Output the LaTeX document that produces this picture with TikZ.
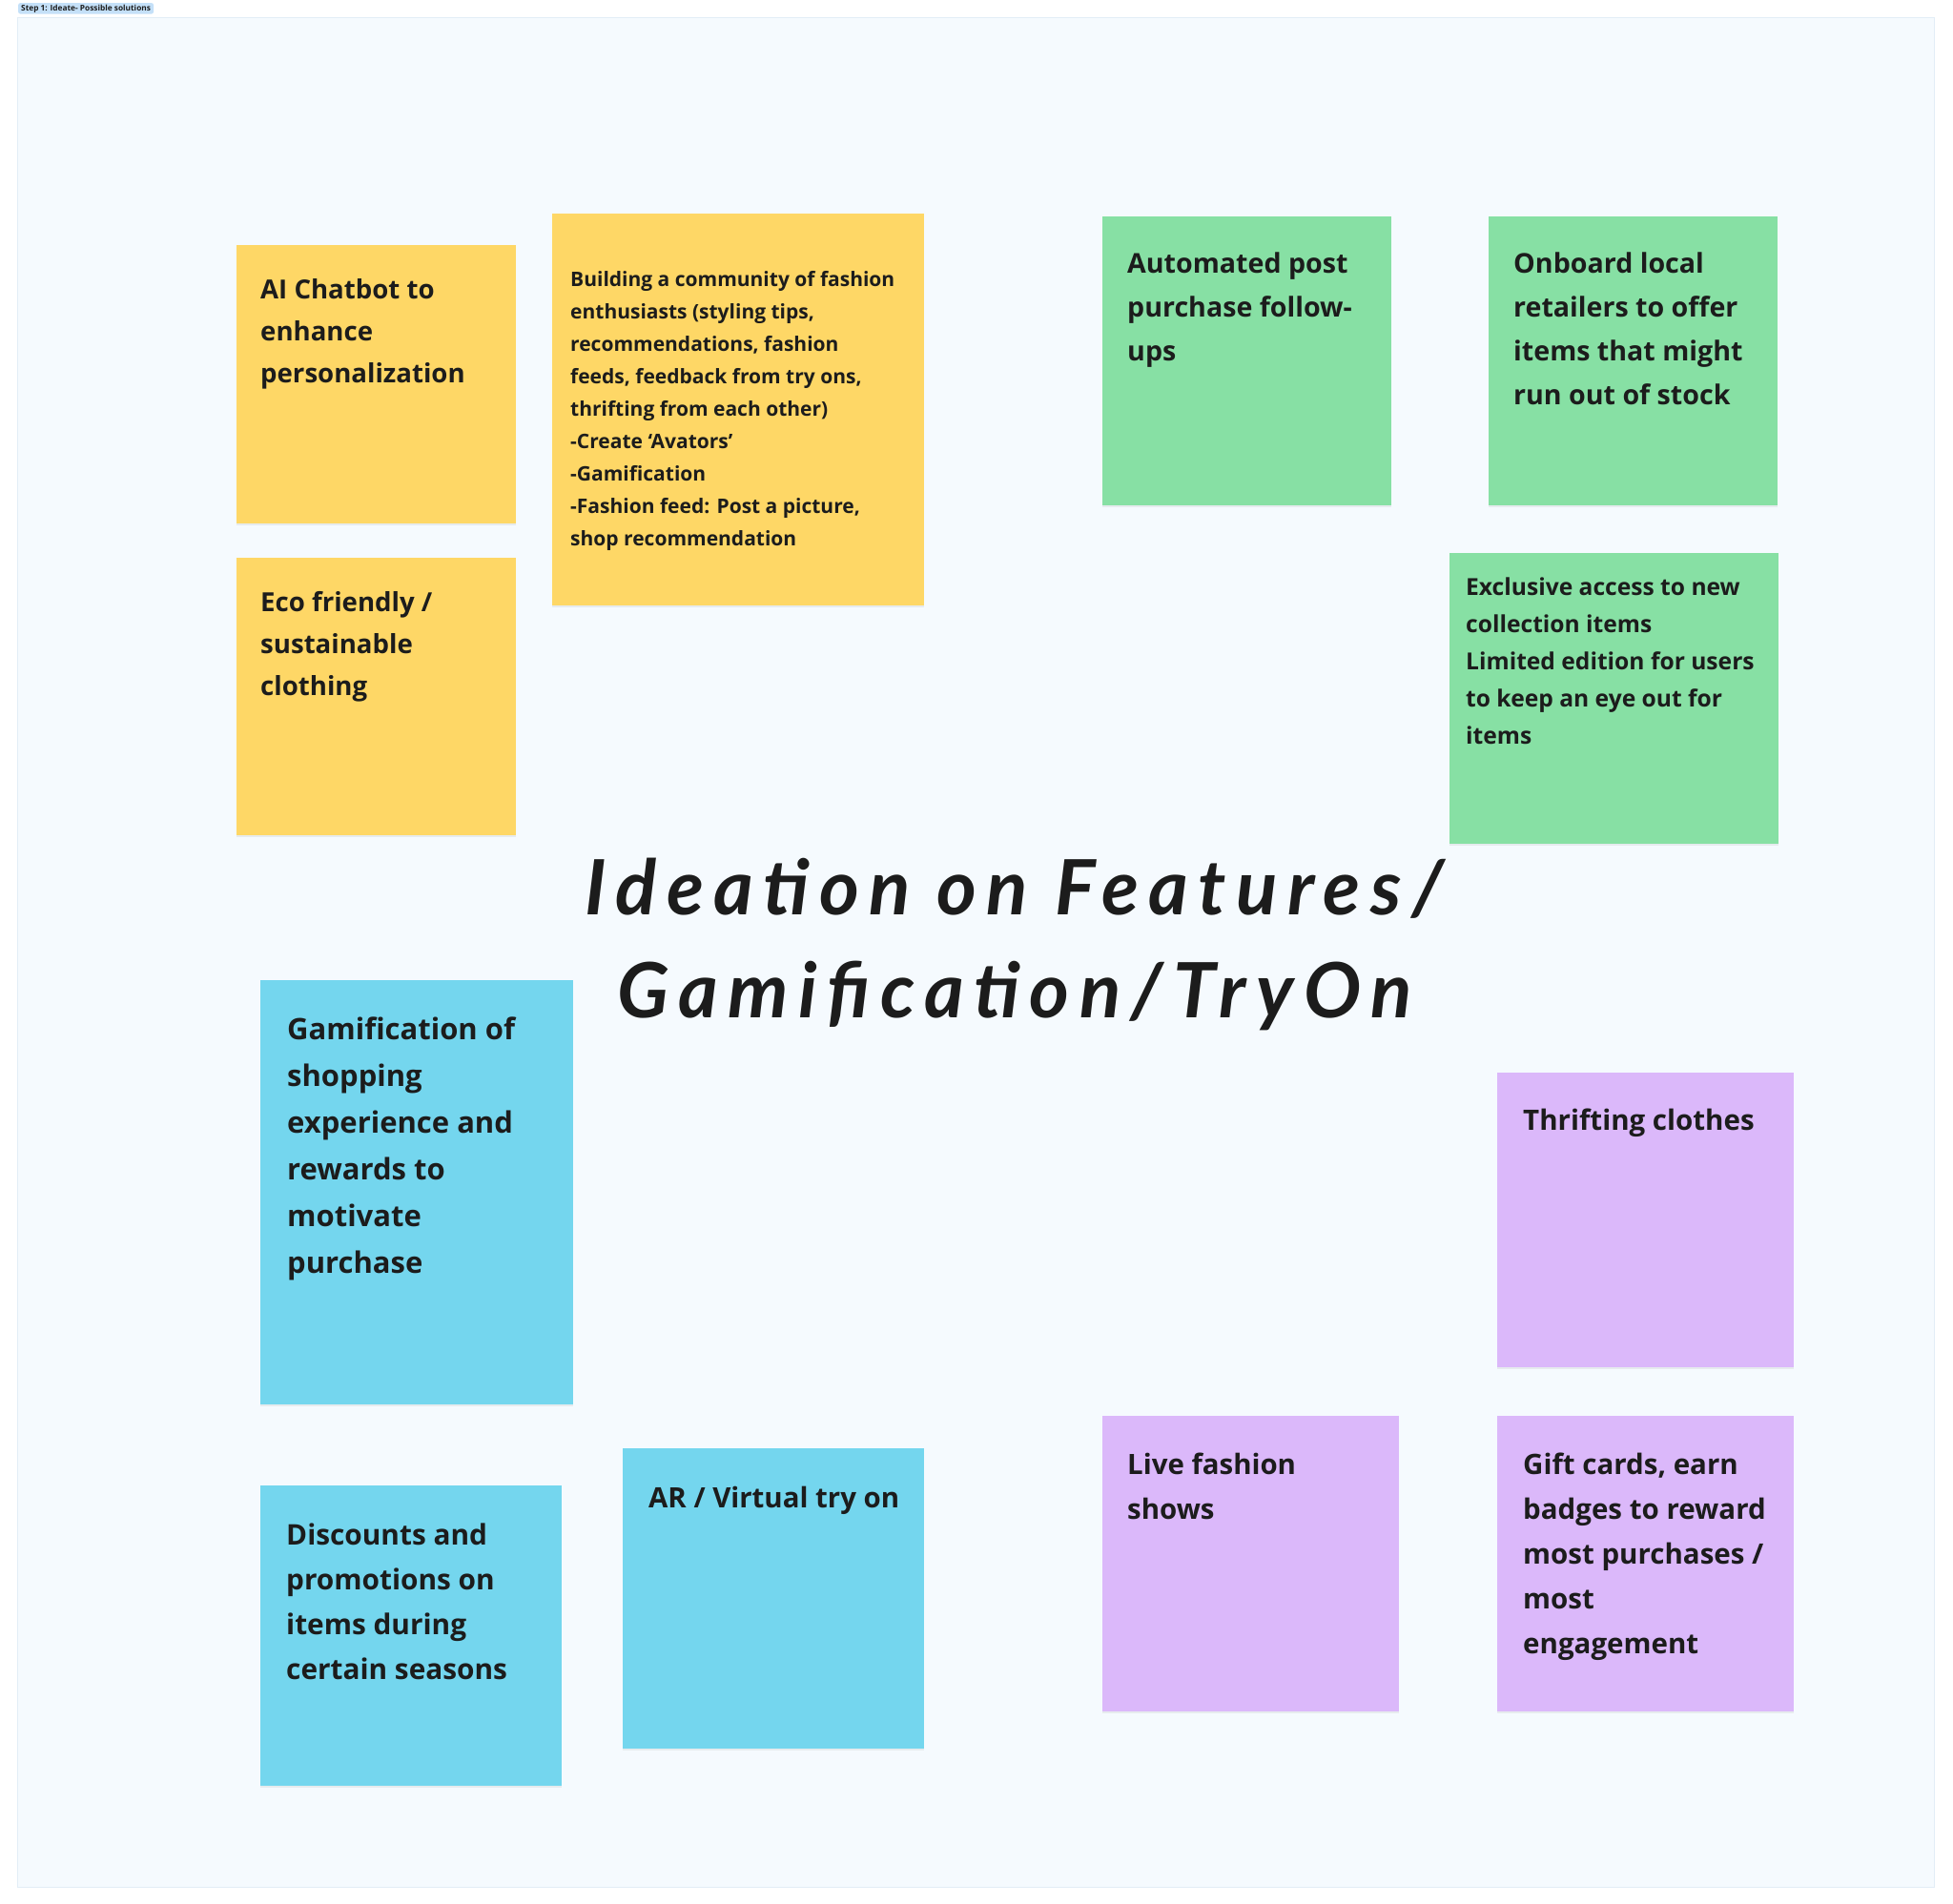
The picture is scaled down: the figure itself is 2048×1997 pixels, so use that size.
\documentclass[tikz,border=0pt]{standalone}
\usepackage{fontspec}
\setmainfont{Open Sans}
\newfontfamily\handfont[LetterSpace=13]{Lato}
\usetikzlibrary{positioning,shadows}

\definecolor{board}{HTML}{F5FAFE}
\definecolor{boardline}{HTML}{E2EDF6}
\definecolor{tagblue}{HTML}{C4E0F8}
\definecolor{ink}{HTML}{1C1C1C}
\definecolor{stickyyellow}{HTML}{FED766}
\definecolor{stickygreen}{HTML}{87E0A4}
\definecolor{stickyblue}{HTML}{74D6EE}
\definecolor{stickypurple}{HTML}{DBB8FA}

\begin{document}
\begin{tikzpicture}[x=1pt, y=-1pt]
  \tikzstyle{note}=[anchor=north west, inner sep=0pt, draw=none,
    drop shadow={shadow xshift=0pt, shadow yshift=-2pt, opacity=0.12}]
  \tikzstyle{yellownote}=[note, fill=stickyyellow]
  \tikzstyle{greennote}=[note, fill=stickygreen]
  \tikzstyle{bluenote}=[note, fill=stickyblue]
  \tikzstyle{purplenote}=[note, fill=stickypurple]
  \tikzstyle{notetext}=[inner sep=0pt, align=left, text=ink]

  \useasboundingbox (0,0) rectangle (2048,1997);
  \fill[white] (0,0) rectangle (2048,1997);

  % ------- board -------
  \node[anchor=north west, inner sep=0pt, fill=board, draw=boardline, line width=1.2pt,
    minimum width=2010pt, minimum height=1961pt] (board) at (18,18) {};
  \node[anchor=north west, fill=tagblue, rounded corners=2pt, inner xsep=3pt, inner ysep=1.5pt,
    text=ink, font=\fontsize{8.3}{9}\selectfont\bfseries] (tag) at (19,3) {Step 1: Ideate- Possible solutions};

  % ------- yellow notes -------
  \node[yellownote, minimum width=293pt, minimum height=292pt] (chat) at (248,257) {};
  \node[notetext, below right=35pt and 25pt of chat.north west, font=\fontsize{27.6}{44}\selectfont\bfseries]
    (chat-t) {AI Chatbot to\\enhance\\personalization};

  \node[yellownote, minimum width=390pt, minimum height=411pt] (comm) at (579,224) {};
  \node[notetext, below right=60pt and 19pt of comm.north west, font=\fontsize{21}{34}\selectfont\bfseries]
    (comm-t) {Building a community of fashion\\enthusiasts (styling tips,\\recommendations, fashion\\feeds, feedback from try ons,\\thrifting from each other)\\-Create `Avators'\\-Gamification\\-Fashion feed: Post a picture,\\shop recommendation};

  \node[yellownote, minimum width=293pt, minimum height=291pt] (eco) at (248,585) {};
  \node[notetext, below right=35pt and 25pt of eco.north west, font=\fontsize{27.6}{44}\selectfont\bfseries]
    (eco-t) {Eco friendly /\\sustainable\\clothing};

  % ------- green notes -------
  \node[greennote, minimum width=303pt, minimum height=303pt] (follow) at (1156,227) {};
  \node[notetext, below right=38pt and 26pt of follow.north west, font=\fontsize{28.6}{46}\selectfont\bfseries]
    (follow-t) {Automated post\\purchase follow-\\ups};

  \node[greennote, minimum width=303pt, minimum height=303pt] (local) at (1561,227) {};
  \node[notetext, below right=38pt and 26pt of local.north west, font=\fontsize{28.6}{46}\selectfont\bfseries]
    (local-t) {Onboard local\\retailers to offer\\items that might\\run out of stock};

  \node[greennote, minimum width=345pt, minimum height=305pt] (excl) at (1520,580) {};
  \node[notetext, below right=26pt and 17pt of excl.north west, font=\fontsize{24.6}{39}\selectfont\bfseries]
    (excl-t) {Exclusive access to new\\collection items\\Limited edition for users\\to keep an eye out for\\items};

  % ------- blue notes -------
  \node[bluenote, minimum width=328pt, minimum height=445pt] (game) at (273,1028) {};
  \node[notetext, below right=39pt and 28pt of game.north west, font=\fontsize{31}{49}\selectfont\bfseries]
    (game-t) {Gamification of\\shopping\\experience and\\rewards to\\motivate\\purchase};

  \node[bluenote, minimum width=316pt, minimum height=315pt] (disc) at (273,1558) {};
  \node[notetext, below right=40pt and 27pt of disc.north west, font=\fontsize{29.8}{47}\selectfont\bfseries]
    (disc-t) {Discounts and\\promotions on\\items during\\certain seasons};

  \node[bluenote, minimum width=316pt, minimum height=315pt] (tryon) at (653,1519) {};
  \node[notetext, below right=40pt and 27pt of tryon.north west, font=\fontsize{29.4}{47}\selectfont\bfseries]
    (tryon-t) {AR / Virtual try on};

  % ------- purple notes -------
  \node[purplenote, minimum width=311pt, minimum height=309pt] (thrift) at (1570,1125) {};
  \node[notetext, below right=38pt and 27pt of thrift.north west, font=\fontsize{29.5}{47}\selectfont\bfseries]
    (thrift-t) {Thrifting clothes};

  \node[purplenote, minimum width=311pt, minimum height=310pt] (live) at (1156,1485) {};
  \node[notetext, below right=39pt and 26pt of live.north west, font=\fontsize{29.4}{47}\selectfont\bfseries]
    (live-t) {Live fashion\\shows};

  \node[purplenote, minimum width=311pt, minimum height=310pt] (gift) at (1570,1485) {};
  \node[notetext, below right=39pt and 27pt of gift.north west, font=\fontsize{29.5}{47}\selectfont\bfseries]
    (gift-t) {Gift cards, earn\\badges to reward\\most purchases /\\most\\engagement};

  % ------- title -------
  \node[align=center, inner sep=0pt, text=ink, font=\handfont\fontsize{80}{108}\selectfont\bfseries\itshape]
    (title) at (1064,990) {Ideation on Features/\\Gamification/TryOn};
\end{tikzpicture}
\end{document}
